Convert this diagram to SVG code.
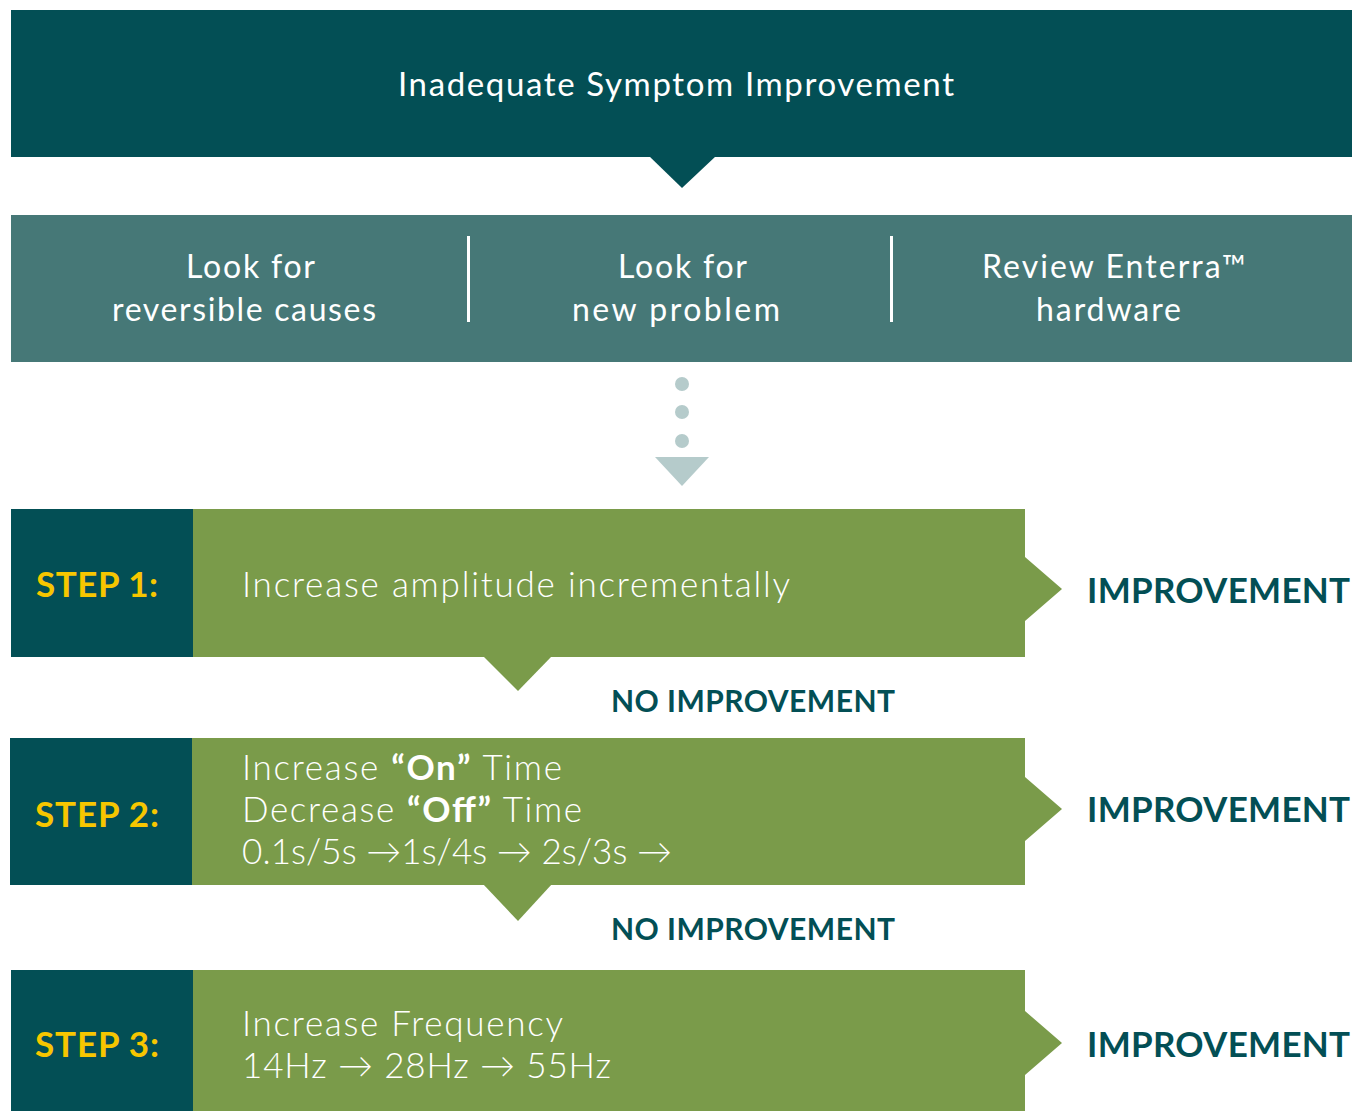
<svg xmlns="http://www.w3.org/2000/svg" width="1358" height="1111" viewBox="0 0 1358 1111">
<style>
.dark{fill:#034f55}
.teal{fill:#467877}
.green{fill:#7a9b4a}
.t{font-family:Lato,"Open Sans",sans-serif;fill:#ffffff}
.title{font-size:33px;font-weight:400}
.row{font-size:32px;font-weight:400}
.body{font-size:35px;font-weight:300}
.b{font-weight:700}
.step{font-family:Lato,"Open Sans",sans-serif;font-size:35px;font-weight:700;fill:#f7c600}
.imp{font-family:Lato,"Open Sans",sans-serif;font-size:35px;font-weight:700;fill:#034f55}
.noimp{font-family:Lato,"Open Sans",sans-serif;font-size:30px;font-weight:700;fill:#034f55}
.dot{fill:#b5cbcb}
</style>
<rect width="1358" height="1111" fill="#ffffff"/>
<g id="top">
<rect class="dark" x="11" y="10" width="1341" height="147"/>
<text class="t title" x="398" y="96" textLength="556" lengthAdjust="spacing">Inadequate Symptom Improvement</text>
</g>
<g id="checks">
<rect class="teal" x="11" y="215" width="1341" height="147"/>
<rect x="467" y="236" width="3" height="86" fill="#ffffff"/>
<rect x="890" y="236" width="3" height="86" fill="#ffffff"/>
<text class="t row" x="186" y="278" textLength="129" lengthAdjust="spacing">Look for</text>
<text class="t row" x="112" y="321" textLength="264" lengthAdjust="spacing">reversible causes</text>
<text class="t row" x="618" y="278" textLength="129" lengthAdjust="spacing">Look for</text>
<text class="t row" x="572" y="321" textLength="208" lengthAdjust="spacing">new problem</text>
<text class="t row" x="982" y="278" textLength="264" lengthAdjust="spacing">Review Enterra™</text>
<text class="t row" x="1036" y="321" textLength="145" lengthAdjust="spacing">hardware</text>
</g>
<g id="step1">
<rect class="dark" x="11" y="509" width="182" height="148"/>
<path class="green" d="M193 509H1025V557L1062 589L1025 621V657H193Z"/>
<text class="step" x="36" y="597" textLength="122" lengthAdjust="spacing">STEP 1:</text>
<text class="t body" x="242" y="597" textLength="548" lengthAdjust="spacing">Increase amplitude incrementally</text>
<text class="imp" x="1087" y="603" textLength="263" lengthAdjust="spacing">IMPROVEMENT</text>
</g>
<g id="step2">
<rect class="dark" x="10" y="738" width="182" height="147"/>
<path class="green" d="M192 738H1025V777L1062 809L1025 841V885H192Z"/>
<text class="step" x="35" y="827" textLength="124" lengthAdjust="spacing">STEP 2:</text>
<text class="t body" x="242" y="780" textLength="320" lengthAdjust="spacing">Increase <tspan class="b">“On”</tspan> Time</text>
<text class="t body" x="242" y="822" textLength="340" lengthAdjust="spacing">Decrease <tspan class="b">“Off”</tspan> Time</text>
<text class="t body" x="242" y="864" textLength="430" lengthAdjust="spacing">0.1s/5s →1s/4s → 2s/3s →</text>
<text class="imp" x="1087" y="822" textLength="263" lengthAdjust="spacing">IMPROVEMENT</text>
</g>
<g id="step3">
<rect class="dark" x="11" y="970" width="182" height="141"/>
<path class="green" d="M193 970H1025V1011L1062 1043L1025 1075V1111H193Z"/>
<text class="step" x="35" y="1057" textLength="124" lengthAdjust="spacing">STEP 3:</text>
<text class="t body" x="242" y="1036" textLength="321" lengthAdjust="spacing">Increase Frequency</text>
<text class="t body" x="242" y="1078" textLength="369" lengthAdjust="spacing">14Hz → 28Hz → 55Hz</text>
<text class="imp" x="1087" y="1057" textLength="263" lengthAdjust="spacing">IMPROVEMENT</text>
</g>
<g id="connectors">
<path class="dark" d="M649 156H716L682 188Z"/>
<circle class="dot" cx="682" cy="384" r="7"/>
<circle class="dot" cx="682" cy="412" r="7"/>
<circle class="dot" cx="682" cy="441" r="7"/>
<path class="dot" d="M655 457H709L682 486Z"/>
<path class="green" d="M483 656H552L518 691Z"/>
<path class="green" d="M483 884H552L518 921Z"/>
<text class="noimp" x="611" y="712" textLength="284" lengthAdjust="spacing">NO IMPROVEMENT</text>
<text class="noimp" x="611" y="940" textLength="284" lengthAdjust="spacing">NO IMPROVEMENT</text>
</g>
</svg>
